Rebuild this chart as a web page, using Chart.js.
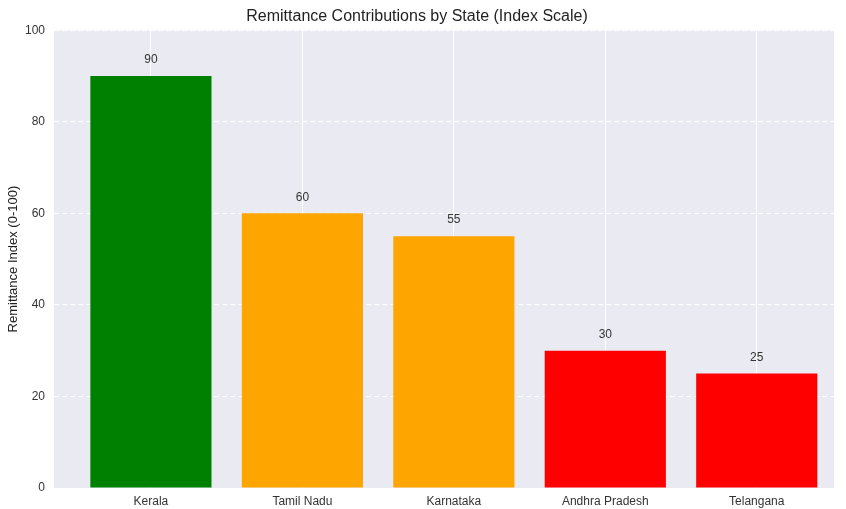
<!DOCTYPE html>
<html lang="en">
<head>
  <meta charset="UTF-8" />
  <title>Remittance Contributions by State</title>
  <script src="https://cdn.jsdelivr.net/npm/chart.js"></script>
  <style>
    body { margin: 0; background: #fff; }
    .chart-container { position: relative; width: 846px; height: 509px; }
  </style>
</head>
<body>
  <div class="chart-container">
    <canvas id="remitChart"></canvas>
  </div>

  <script>
    // Data
    const states = ['Kerala', 'Tamil Nadu', 'Karnataka', 'Andhra Pradesh', 'Telangana'];
    const remitIndex = [90, 60, 55, 30, 25];
    const barColors = ['#008000', '#FFA500', '#FFA500', '#FF0000', '#FF0000'];
    const yTicks = [0, 20, 40, 60, 80, 100];

    const textColor = '#333333';
    const font = '"Liberation Sans", Arial, sans-serif';

    // Panel background like seaborn's darkgrid
    const panelBg = {
      id: 'panelBg',
      beforeDraw(chart) {
        const { ctx, chartArea: a } = chart;
        ctx.save();
        ctx.fillStyle = '#EAEAF2';
        ctx.fillRect(a.left, a.top, a.right - a.left, a.bottom - a.top);
        ctx.restore();
      }
    };

    // Numbers above each bar
    const barValues = {
      id: 'barValues',
      afterDatasetsDraw(chart) {
        const { ctx } = chart;
        const yScale = chart.scales.y;
        const meta = chart.getDatasetMeta(0);
        ctx.save();
        ctx.font = '12px ' + font;
        ctx.fillStyle = textColor;
        ctx.textAlign = 'center';
        ctx.textBaseline = 'middle';
        meta.data.forEach((bar, i) => {
          ctx.fillText(String(remitIndex[i]), bar.x, yScale.getPixelForValue(remitIndex[i] + 3.5));
        });
        ctx.restore();
      }
    };

    new Chart(document.getElementById('remitChart').getContext('2d'), {
      type: 'bar',
      data: {
        datasets: [{
          data: remitIndex.map((v, i) => ({ x: i, y: v })),
          backgroundColor: barColors,
          borderWidth: 0,
          barPercentage: 0.8,
          categoryPercentage: 1.0
        }]
      },
      options: {
        responsive: true,
        maintainAspectRatio: false,
        animation: false,
        layout: { padding: { left: 0, right: 12, top: 0, bottom: 0 } },
        plugins: {
          legend: { display: false },
          tooltip: { enabled: false },
          title: {
            display: true,
            text: 'Remittance Contributions by State (Index Scale)',
            color: '#222222',
            font: { family: font, size: 16, weight: 'normal' },
            padding: { top: 7, bottom: 4 }
          }
        },
        scales: {
          x: {
            type: 'linear',
            min: -0.64,
            max: 4.51,
            offset: false,
            grid: { color: '#FFFFFF', lineWidth: 1, drawTicks: false, offset: false },
            border: { display: false },
            afterBuildTicks(scale) { scale.ticks = states.map((s, i) => ({ value: i })); },
            ticks: {
              autoSkip: false,
              padding: 6,
              color: textColor,
              font: { family: font, size: 12 },
              callback: v => states[v]
            },
            afterFit(scale) { scale.height = 21; }
          },
          y: {
            min: 0,
            max: 100,
            grid: { color: '#FFFFFF', lineWidth: 1, drawTicks: false },
            border: { display: false, dash: [5, 3] },
            afterBuildTicks(scale) { scale.ticks = yTicks.map(v => ({ value: v })); },
            ticks: {
              padding: 9,
              color: textColor,
              font: { family: font, size: 12 }
            },
            title: {
              display: true,
              text: 'Remittance Index (0-100)',
              color: '#222222',
              font: { family: font, size: 13 },
              padding: { top: 6, bottom: 2 }
            },
            afterFit(scale) { scale.width = 54; }
          }
        }
      },
      plugins: [panelBg, barValues]
    });
  </script>
</body>
</html>
